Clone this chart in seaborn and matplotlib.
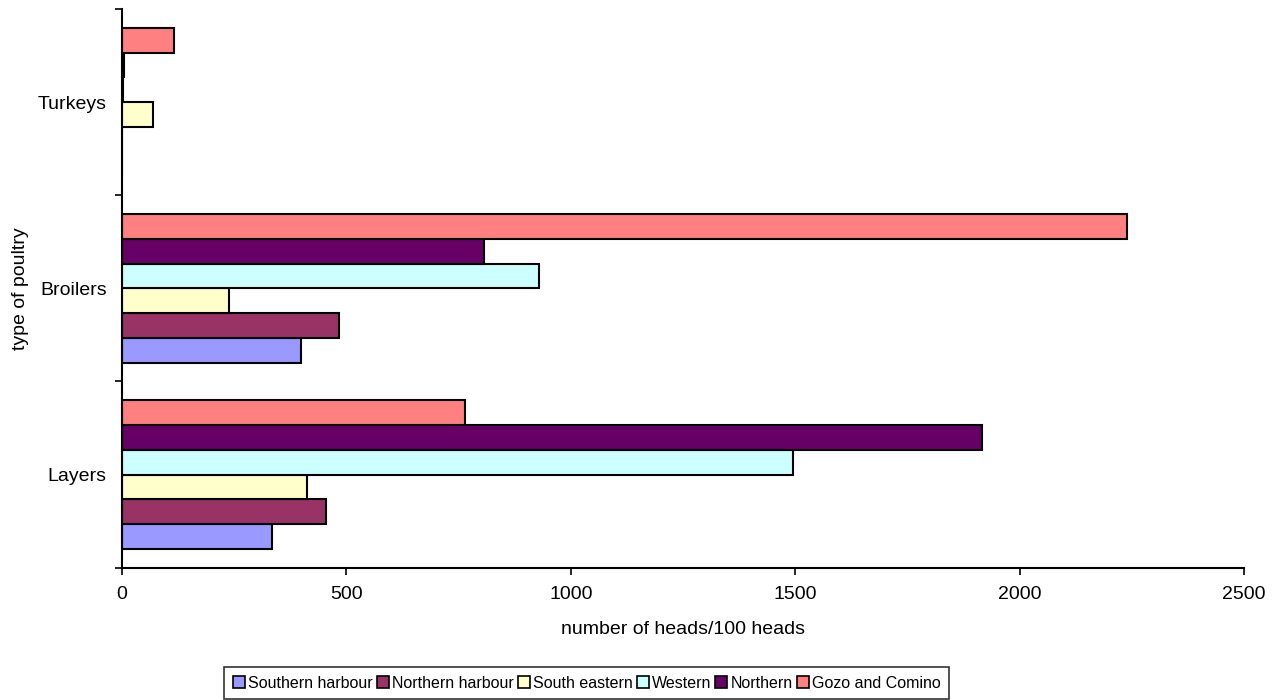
import pandas as pd
import matplotlib
matplotlib.use('Agg')
import matplotlib.pyplot as plt
import seaborn as sns
from matplotlib.patches import Patch

# Daten
poultry_types = ['Layers', 'Broilers', 'Turkeys']
regions = ['Southern harbour', 'Northern harbour', 'South eastern',
           'Western', 'Northern', 'Gozo and Comino']
southern_harbour = [334, 398, 0]
northern_harbour = [455, 484, 0]
south_eastern = [412, 239, 70]
western = [1495, 930, 2]
northern = [1917, 806, 4]
gozo_comino = [765, 2240, 117]

colors = ['#9999FF', '#993366', '#FFFFCC', '#CCFFFF', '#660066', '#FF8080']

series = [southern_harbour, northern_harbour, south_eastern,
          western, northern, gozo_comino]
rows = []
for region, vals in zip(regions, series):
    for ptype, v in zip(poultry_types, vals):
        rows.append({'type': ptype, 'region': region, 'value': v})
df = pd.DataFrame(rows)

sns.set_theme(style="white")
plt.rcParams['font.family'] = ['Liberation Sans', 'DejaVu Sans']
plt.rcParams.update({
    'text.color': 'black',
    'axes.labelcolor': 'black',
    'xtick.color': 'black',
    'ytick.color': 'black',
})

fs = 14
fs_leg = 11.5

fig = plt.figure(figsize=(12.84, 7), dpi=100)
ax = fig.add_axes([0.095, 0.189, 0.874, 0.798])

sns.barplot(data=df, x='value', y='type', hue='region', orient='h',
            order=poultry_types, hue_order=regions, palette=colors,
            width=0.8, edgecolor='black', linewidth=1.5, saturation=1,
            legend=False, ax=ax)

# Layers unten, Turkeys oben
ax.set_ylim(-0.5, 2.5)
ax.set_xlim(0, 2500)
ax.set_xticks([0, 500, 1000, 1500, 2000, 2500])

ax.set_yticks([-0.5, 0.5, 1.5, 2.5])
ax.set_yticklabels([])
ax.set_yticks([0, 1, 2], minor=True)
ax.set_yticklabels(poultry_types, minor=True)
ax.tick_params(axis='y', which='minor', length=0, pad=11, labelsize=fs)
ax.tick_params(axis='y', which='major', direction='out', length=5, width=1.2,
               color='black', left=True)
ax.tick_params(axis='x', direction='out', length=5, width=1.2, color='black',
               bottom=True, pad=8, labelsize=fs)

for side in ['top', 'right']:
    ax.spines[side].set_visible(False)
for side in ['left', 'bottom']:
    ax.spines[side].set_color('black')
    ax.spines[side].set_linewidth(1.5)
ax.grid(False)

ax.set_xlabel('number of heads/100 heads', fontsize=fs, labelpad=13)
ax.set_ylabel('type of poultry', fontsize=fs, labelpad=6)

handles = [Patch(facecolor=c, edgecolor='black', linewidth=1.2) for c in colors]
leg = fig.legend(handles, regions, loc='center', bbox_to_anchor=(0.457, 0.024),
                 ncol=6, frameon=True, fancybox=False, fontsize=fs_leg,
                 handlelength=0.75, handleheight=0.75, handletextpad=0.2,
                 columnspacing=0.25, borderpad=0.55, borderaxespad=0)
leg.get_frame().set_edgecolor('black')
leg.get_frame().set_linewidth(1.2)

plt.savefig('out.png', dpi=100)
plt.close()
